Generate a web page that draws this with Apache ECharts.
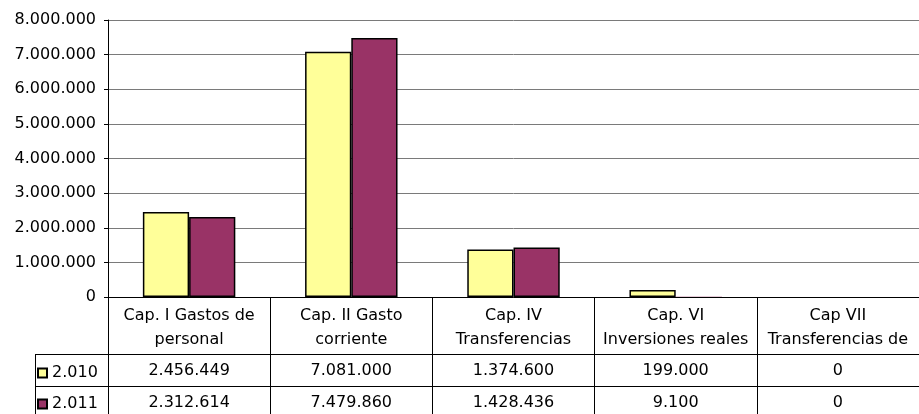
<!DOCTYPE html>
<html>
<head>
<meta charset="utf-8">
<script src="https://cdn.jsdelivr.net/npm/echarts@6/dist/echarts.min.js"></script>
<style>
  html, body { margin: 0; padding: 0; background: #fff; }
  #chart { width: 919px; height: 414px; }
</style>
</head>
<body>
<div id="chart"></div>
<script>
const categories = [
  'Cap. I Gastos de\npersonal',
  'Cap. II Gasto\ncorriente',
  'Cap. IV\nTransferencias',
  'Cap. VI\nInversiones reales',
  'Cap VII\nTransferencias de',
];
const seriesNames = ['2.010', '2.011'];
const values2010 = [2456449, 7081000, 1374600, 199000, 0];
const values2011 = [2312614, 7479860, 1428436, 9100, 0];
const yTicks = { min: 0, max: 8000000, interval: 1000000 };

const colors = ['#ffff99', '#993366'];
const font = 'DejaVu Sans';

function fmt(n) {
  return String(n).replace(/\B(?=(\d{3})+(?!\d))/g, '.');
}

// bars too small to see in the original get no outline
function barData(values) {
  return values.map(v => (v < 50000 ? { value: v, itemStyle: { borderWidth: 0, opacity: v ? 1 : 0 } } : v));
}

const chart = echarts.init(document.getElementById('chart'));

const tableAxis = (data, offset) => ({
  type: 'category',
  position: 'bottom',
  offset: offset,
  data: data.map(fmt),
  axisLine: { show: false },
  axisTick: { show: false },
  axisLabel: {
    interval: 0,
    margin: 17,
    verticalAlign: 'middle',
    color: '#000',
    fontFamily: font,
    fontSize: 16,
  },
});

chart.setOption({
  backgroundColor: '#fff',
  animation: false,
  grid: { left: 108, right: 0, top: 20, bottom: 117 },
  legend: {
    orient: 'vertical',
    left: 37,
    top: 365,
    padding: 0,
    itemWidth: 9,
    itemHeight: 9,
    itemGap: 15,
    icon: 'rect',
    data: seriesNames,
    textStyle: { color: '#000', fontFamily: font, fontSize: 16 },
  },
  xAxis: [
    {
      type: 'category',
      data: categories,
      axisLine: { lineStyle: { color: '#000', width: 1 } },
      axisTick: { show: true, interval: 0, length: 117, lineStyle: { color: '#000' } },
      axisLabel: {
        interval: 0,
        margin: 7,
        lineHeight: 24,
        color: '#000',
        fontFamily: font,
        fontSize: 16,
      },
    },
    tableAxis(values2010, 57),
    tableAxis(values2011, 89),
  ],
  yAxis: {
    type: 'value',
    min: yTicks.min,
    max: yTicks.max,
    interval: yTicks.interval,
    axisLine: { show: true, lineStyle: { color: '#000' } },
    axisTick: { show: true, length: 4, lineStyle: { color: '#000' } },
    axisLabel: {
      margin: 12,
      color: '#000',
      fontFamily: font,
      fontSize: 16,
      formatter: v => fmt(v),
    },
    splitLine: { lineStyle: { color: '#7a7a7a', width: 1 } },
  },
  series: [
    {
      name: seriesNames[0],
      type: 'bar',
      data: barData(values2010),
      barGap: '0%',
      barCategoryGap: '43%',
      itemStyle: { color: colors[0], borderColor: '#000', borderWidth: 1.5 },
    },
    {
      name: seriesNames[1],
      type: 'bar',
      data: barData(values2011),
      barGap: '0%',
      barCategoryGap: '43%',
      itemStyle: { color: colors[1], borderColor: '#000', borderWidth: 1.5 },
    },
  ],
  graphic: [
    { type: 'line', shape: { x1: 35, y1: 354.5, x2: 919, y2: 354.5 }, style: { stroke: '#000', lineWidth: 1 } },
    { type: 'line', shape: { x1: 35, y1: 386.5, x2: 919, y2: 386.5 }, style: { stroke: '#000', lineWidth: 1 } },
    { type: 'line', shape: { x1: 35.5, y1: 354, x2: 35.5, y2: 414 }, style: { stroke: '#000', lineWidth: 1 } },
  ],
});
</script>
</body>
</html>
